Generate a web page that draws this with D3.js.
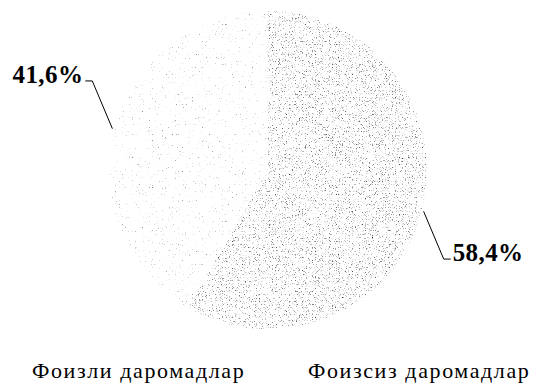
<!DOCTYPE html>
<html>
<head>
<meta charset="utf-8">
<script src="https://cdn.jsdelivr.net/npm/d3@7"></script>
<style>
  body { margin: 0; background: #fff; }
  svg { display: block; }
</style>
</head>
<body>
<div id="chart"></div>
<script>
// data
const categories = ["Фоизли даромадлар", "Фоизсиз даромадлар"];
const values = [41.6, 58.4];
const labels = ["41,6%", "58,4%"];

const width = 533, height = 385;
const cx = 268, cy = 170, radius = 159;
const serif = "'Liberation Serif'";

const svg = d3.select("#chart").append("svg")
  .attr("width", width)
  .attr("height", height);

// stipple filters: fine noise thresholded into grey dots, clipped to the slice
const defs = svg.append("defs");
const stipple = (id, threshold, seed) => {
  const f = defs.append("filter")
    .attr("id", id)
    .attr("filterUnits", "userSpaceOnUse")
    .attr("x", -cx).attr("y", -cy)
    .attr("width", width).attr("height", height)
    .attr("color-interpolation-filters", "sRGB");
  f.append("feTurbulence")
    .attr("type", "fractalNoise")
    .attr("baseFrequency", 1.3)
    .attr("numOctaves", 1)
    .attr("seed", seed)
    .attr("result", "noise");
  f.append("feColorMatrix")
    .attr("in", "noise")
    .attr("type", "matrix")
    .attr("values", "0 0 0 0 0.2  0 0 0 0 0.2  0 0 0 0 0.2  4 0 0 0 " + (-4 * threshold))
    .attr("result", "dots");
  f.append("feComposite")
    .attr("in", "dots")
    .attr("in2", "SourceAlpha")
    .attr("operator", "in");
};
stipple("dotsLight", 0.68, 3);
stipple("dotsDark", 0.585, 8);

const pie = d3.pie()
  .sort(null)
  .value(d => d)
  .startAngle(-150 * Math.PI / 180)
  .endAngle(210 * Math.PI / 180);

const arcs = pie(values);
const arc = d3.arc().innerRadius(0).outerRadius(radius);

const g = svg.append("g").attr("transform", `translate(${cx},${cy})`);

g.selectAll("path.slice")
  .data(arcs)
  .join("path")
  .attr("class", "slice")
  .attr("d", arc)
  .attr("fill", "#000")
  .attr("filter", (d, i) => i === 0 ? "url(#dotsLight)" : "url(#dotsDark)");

// leader lines and labels
const polar = (a, r) => [r * Math.sin(a), -r * Math.cos(a)];
const shift = 12 * Math.PI / 180;

arcs.forEach((d, i) => {
  const mid = (d.startAngle + d.endAngle) / 2;
  const p0 = polar(mid, radius + 2);
  const p1 = polar(mid + shift, 197);
  const side = p1[0] < 0 ? -1 : 1;
  const p2 = [p1[0] + side * 7, p1[1]];
  g.append("polyline")
    .attr("points", [p0, p1, p2].map(p => p.join(",")).join(" "))
    .attr("fill", "none")
    .attr("stroke", "#000")
    .attr("stroke-width", 1);
  g.append("text")
    .attr("x", p2[0] + side * 2)
    .attr("y", p2[1] + 2)
    .attr("text-anchor", side < 0 ? "end" : "start")
    .style("font-family", serif)
    .attr("font-weight", "bold")
    .attr("font-size", 25)
    .attr("letter-spacing", 0.4)
    .text(labels[i]);
});

// legend
const legendX = d3.scaleBand().domain(categories).range([32, 584]);
svg.selectAll("text.legend")
  .data(categories)
  .join("text")
  .attr("class", "legend")
  .attr("x", d => legendX(d))
  .attr("y", 378)
  .style("font-family", serif)
  .attr("font-size", 22)
  .attr("letter-spacing", 1.6)
  .text(d => d);
</script>
</body>
</html>
